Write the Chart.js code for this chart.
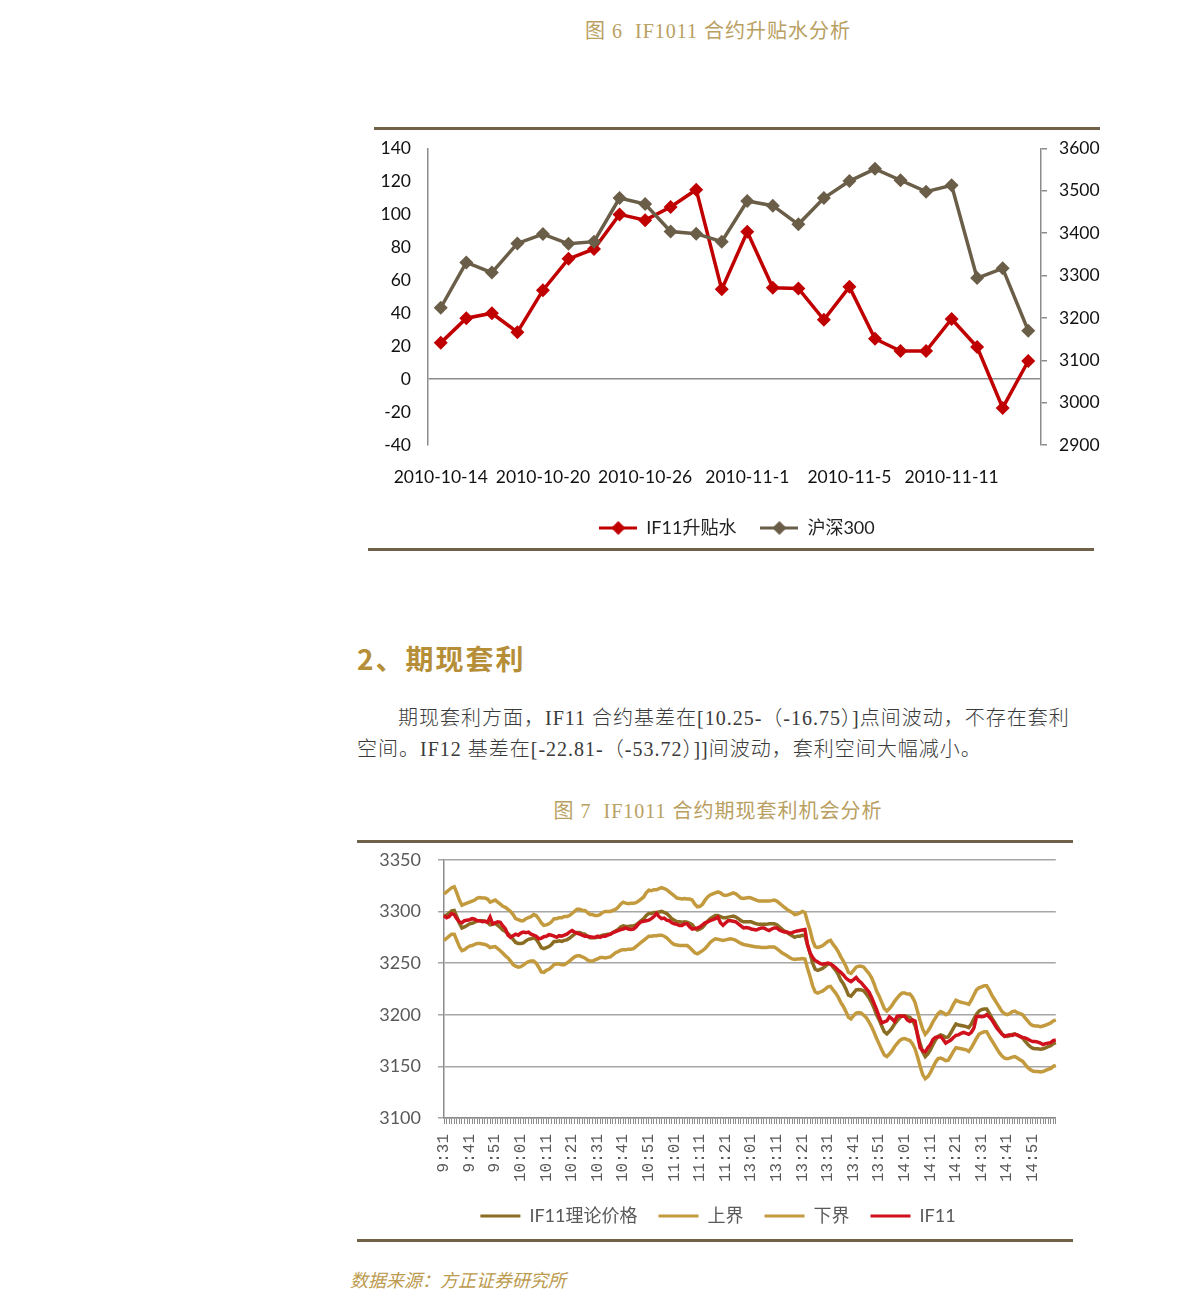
<!DOCTYPE html>
<html><head><meta charset="utf-8">
<script src="https://cdn.jsdelivr.net/npm/chart.js@4.4.0/dist/chart.umd.min.js"></script>
<style>
html,body{margin:0;padding:0;background:#fff;}
body{width:1191px;height:1309px;position:relative;overflow:hidden;}
.abs{position:absolute;white-space:pre;}
.title{font-family:'Liberation Serif','Noto Sans CJK SC',serif;font-size:20px;letter-spacing:1px;color:#B9A062;text-align:center;width:600px;left:418px;line-height:24px;}
.rule{position:absolute;height:3px;background:#6F6249;}
.para{font-family:'Liberation Serif','Noto Sans CJK SC',serif;font-size:20px;letter-spacing:1px;color:#3a3a3a;line-height:30px;font-weight:300;}
canvas{position:absolute;}
</style></head><body>
<div class="abs title" style="top:19px;">图 6  IF1011 合约升贴水分析</div>
<div class="rule" style="left:374px;top:127px;width:726px;"></div>
<canvas id="c1" width="746" height="426" style="left:364px;top:121px;width:746px;height:426px;"></canvas>
<div class="rule" style="left:368px;top:548px;width:726px;"></div>

<div class="abs" style="left:357px;top:641px;font-family:'Noto Sans CJK SC',sans-serif;font-weight:700;font-size:28px;letter-spacing:2px;line-height:34px;color:#B58E37;">2、期现套利</div>
<div class="abs para" style="left:398px;top:703px;">期现套利方面，IF11 合约基差在[10.25-（-16.75）]点间波动，不存在套利</div>
<div class="abs para" style="left:357px;top:734px;">空间。IF12 基差在[-22.81-（-53.72）]]间波动，套利空间大幅减小。</div>

<div class="abs title" style="top:799px;">图 7  IF1011 合约期现套利机会分析</div>
<div class="rule" style="left:357px;top:840px;width:716px;"></div>
<canvas id="c2" width="728" height="406" style="left:357px;top:832px;width:728px;height:406px;"></canvas>
<div class="rule" style="left:357px;top:1239px;width:716px;"></div>
<div class="abs" style="left:350px;top:1267px;font-family:'Noto Sans CJK SC',sans-serif;font-style:italic;font-size:18px;line-height:24px;color:#BC9A4E;">数据来源：方正证券研究所</div>

<script>
// ---------- Chart 1 data ----------
const dates1 = ['2010-10-14','2010-10-15','2010-10-18','2010-10-19','2010-10-20','2010-10-21','2010-10-22','2010-10-25','2010-10-26','2010-10-27','2010-10-28','2010-10-29','2010-11-1','2010-11-2','2010-11-3','2010-11-4','2010-11-5','2010-11-8','2010-11-9','2010-11-10','2010-11-11','2010-11-12','2010-11-15','2010-11-16'];
const if11Basis = [22, 37, 40, 28.5, 54, 73, 79, 100, 96.5, 104.5, 115, 54.5, 89.5, 55.5, 55, 36, 56, 24.5, 17, 17, 36.5, 19.5, -17.5, 11];
const hs300 = [3224, 3331, 3307, 3376, 3398, 3375, 3380, 3483, 3469, 3404, 3399, 3380, 3476, 3465, 3421, 3483, 3523, 3552, 3525, 3498, 3513, 3294, 3317, 3170];
const seriesNames1 = ['IF11升贴水', '沪深300'];

// ---------- Chart 2 data ----------
const seriesNames2 = ['IF11理论价格', '上界', '下界', 'IF11'];
const sessions = [['9:31', '11:30'], ['13:01', '15:00']];
const theoPrice = [
3295,3296.5,3298.5,3300.5,3301,3295,3288.5,3284,3285,3286.5,
3288,3288.5,3289.5,3291,3291,3291,3290.5,3289.5,3287,3287.5,
3288.5,3286.5,3284.5,3282,3280.5,3278.5,3276,3273,3270,3269,
3269,3269.5,3271.5,3273,3273.5,3274.5,3273,3269.5,3265,3264,
3265,3266,3268,3271,3271,3271.5,3271,3272,3272.5,3274,
3276,3278,3279.5,3279.5,3278.5,3278,3276,3274.5,3274.5,3274.5,
3275,3276,3277,3277.5,3278,3278,3279.5,3281,3282.5,3285,
3286,3285.5,3285.5,3286,3286,3287,3289,3291,3293,3296,
3298,3298,3299,3299,3299.5,3300,3299,3298,3295.5,3293,
3291.5,3290,3290,3289.5,3290,3289.5,3288.5,3287,3283.5,3282,
3283,3284.5,3287.5,3290.5,3293,3294.5,3296,3296,3295,3294,
3294,3294.5,3295,3295.5,3294.5,3293,3291,3290,3290,3290,
3290,3289,3288,3287.5,3287.5,3287.5,3287.5,3288,3288,3288,
3287,3285,3283,3281,3279.5,3278,3276.5,3275,3276,3276,
3277,3276.5,3267.5,3259.5,3250,3244,3243,3244,3245,3247,
3249,3249.5,3246,3243,3239,3233.5,3230,3225,3219,3218,
3221,3224,3224.5,3224,3223,3220,3216.5,3212,3206.5,3200,
3195,3189,3183.5,3181.5,3184,3187,3191,3194,3197,3199,
3199,3198,3197.5,3194.5,3189.5,3181,3172,3164,3159.5,3162,
3166,3171,3175.5,3179,3180.5,3179.5,3178,3178.5,3182.5,3187,
3191,3190,3189.5,3189,3188.5,3187.5,3191,3196,3200.5,3203.5,
3205,3205.5,3205.5,3201.5,3197,3193,3189,3185,3181.5,3179.5,
3179,3179.5,3181,3181.5,3180,3179,3177.5,3174.5,3171.5,3169,
3167.5,3167,3167,3166.5,3167,3168,3169,3170,3172,3173];
const upperBound = [
3317,3319,3321,3323,3324,3318,3311,3306,3307,3308,
3309,3310,3311,3313,3313.5,3313,3313,3312,3309,3310,
3311,3309,3307,3305,3304,3302,3300,3297,3293,3292,
3291,3291,3293,3294,3295,3297,3296,3293,3289,3286.5,
3287,3288,3290,3293,3293,3294,3294,3295,3295,3296,
3298,3300,3302,3302,3301,3301,3299,3297,3297,3296,
3296,3297,3299,3300,3300,3300,3301,3302,3304,3307,
3309,3308,3307.5,3308,3308,3308.5,3310,3312,3314,3318,
3320.5,3320,3321,3321,3322,3323,3322,3321,3319,3317,
3315,3313,3312.5,3312,3312.5,3312,3312,3311,3307,3304.5,
3305,3307,3311,3314,3316,3317,3318,3319,3318,3316,
3315.5,3316,3317,3318,3317,3315,3313,3312.5,3313,3313.5,
3313,3312,3311,3310,3310,3310,3310,3310,3310.5,3311,
3310,3308,3306,3304,3302,3300.5,3299,3297,3297.5,3298.5,
3300,3299,3290,3282,3272,3266,3265,3266,3267,3269,
3271,3272,3268,3265,3261,3256,3252,3247,3241,3240,
3243,3246,3247,3247,3246,3243,3240,3236,3230,3223,
3218,3212,3206,3203.5,3206,3209,3213,3216,3219,3221,
3221,3220,3220,3217,3212,3203,3194,3186,3181,3184,
3188,3193,3197,3201,3203,3202,3200,3201,3205,3210,
3214,3213,3212,3211.5,3211,3210,3214,3219,3224,3226,
3227,3228,3228,3224,3219,3215,3211,3207,3203,3201,
3200,3201,3203,3203.5,3202,3201,3200,3197,3194,3191,
3189.5,3189,3189,3188.5,3189,3190,3191,3192,3194,3195];
const lowerBound = [
3272,3274,3276,3278,3278,3272,3266,3262,3263,3265,
3266.5,3267,3268,3269,3269,3268.5,3268,3267,3265,3265.5,
3266,3264,3262,3259.5,3257,3255,3252,3248.5,3247,3246,
3246.5,3248,3250,3251.5,3252,3252,3250,3246,3241.5,3241,
3243,3244,3246,3248.5,3249,3249,3248.5,3248.5,3250,3252,
3254,3256,3257,3257,3256,3255,3253,3252,3252,3253,
3254,3255.5,3255.5,3255,3255.5,3256,3258,3260,3261,3262.5,
3263,3263,3263.5,3263.5,3264,3266,3268,3270,3272,3274,
3276,3276,3276.5,3276.5,3277,3277,3276,3274.5,3272,3269.5,
3268,3267.5,3267,3267,3267,3267,3265,3262.5,3260,3259,
3260.5,3262,3264,3267,3270,3272,3273.5,3273,3272.5,3272,
3272.5,3273,3273.5,3273,3272,3270.5,3269,3268,3267.5,3267,
3266.5,3266,3265.5,3265.5,3265,3265,3265,3265.5,3265.5,3265.5,
3264,3262,3260,3258.5,3257,3255.5,3254,3253.5,3254,3254,
3254.5,3254,3245,3237,3228,3222,3221,3222,3223,3225,
3227,3227.5,3224,3221,3217,3212,3208,3203,3197.5,3196,
3199,3201.5,3202,3201.5,3199.5,3197,3193,3188.5,3183,3177,
3171.5,3166,3161,3159.5,3162,3165,3169,3172,3175,3176.5,
3177,3176,3175,3172,3167,3159,3150,3142,3138,3140,
3144,3149,3154,3157.5,3158,3157,3155.5,3156,3160,3164.5,
3168,3167.5,3167,3166.5,3166,3164.5,3168,3172.5,3177,3181,
3182.5,3183.5,3183.5,3179,3175,3171,3167,3163,3160,3158,
3157.5,3158,3159,3159.5,3158,3156.5,3155,3152,3149,3147,
3145.5,3145,3145,3144.5,3145,3146,3147,3148,3150,3151];
const if11Price = [
3296,3294,3295,3298,3297,3293,3290,3289,3291,3291.5,
3292,3293,3292.5,3291,3291,3290,3290.5,3289.5,3294.5,3288,
3289,3290,3289.5,3286,3283,3277,3275,3276.5,3278,3277,
3279,3280,3279.5,3280,3278,3277,3276,3273.5,3274,3275.5,
3276,3277.5,3277,3276,3275,3276.5,3276,3277,3278,3280,
3281.5,3280,3279,3278,3277,3276,3276,3275.5,3275,3275,
3276,3275,3276,3276,3277,3278,3279.5,3280.5,3281.5,3282.5,
3283,3284,3283,3282.5,3283,3285,3288,3290,3290.5,3291,
3291.5,3293,3295,3298,3295,3293,3293.5,3291.5,3291,3289,
3288,3287.5,3286.5,3286.5,3288,3288,3285,3283,3283.5,3284,
3285,3287,3289,3290,3291,3292,3293,3294.5,3289,3286.5,
3289,3291,3291,3290.5,3290,3288,3286,3284,3284.5,3284,
3283,3282.5,3282,3283,3284,3284,3282.5,3281.5,3283,3284,
3284,3282,3281,3280,3280,3279,3279.5,3280.5,3281,3281.5,
3282,3282.5,3268,3260,3255.5,3252.5,3251,3249.5,3249,3249.5,
3250,3249,3247.5,3245.5,3243,3241,3238.5,3235.5,3233.5,3232,
3234,3236,3233,3231,3228,3225,3222,3217,3211,3205,
3198,3192,3193,3194,3198,3196,3193.5,3198.5,3199,3198.5,
3198.5,3195,3193.5,3195,3194,3180,3168,3165,3164,3168,
3171,3176,3178,3178.5,3179,3176,3172.5,3174,3175.5,3178,
3180,3180.5,3182,3183,3182,3181,3183,3187,3198,3198.5,
3198,3198.5,3200,3198,3195,3191,3187,3184,3181,3179,
3180,3180.5,3180,3181,3180.5,3179,3178,3177.5,3176.5,3175,
3174,3174,3173.5,3172.5,3171,3172,3172.5,3173,3175,3175.5];

// minute categories for the two trading sessions
function minutesBetween(a, b) {
  const toM = s => { const p = s.split(':'); return (+p[0]) * 60 + (+p[1]); };
  const out = [];
  for (let m = toM(a); m <= toM(b); m++) out.push(Math.floor(m / 60) + ':' + String(m % 60).padStart(2, '0'));
  return out;
}
const times2 = sessions.flatMap(s => minutesBetween(s[0], s[1]));

// ---------- Common ----------
Chart.defaults.font.family = "Lato, 'Noto Sans CJK SC', sans-serif";
Chart.defaults.animation = false;

const RED1 = '#C00000', GRAY1 = '#6B5E48';
const AXIS = '#8C8C8C';
const plain = v => String(v);

function lineMarker(color) {
  const c = document.createElement('canvas');
  c.width = 38; c.height = 16;
  const g = c.getContext('2d');
  g.strokeStyle = color; g.lineWidth = 3;
  g.beginPath(); g.moveTo(0, 8); g.lineTo(38, 8); g.stroke();
  g.fillStyle = color;
  g.beginPath(); g.moveTo(19, 1); g.lineTo(26, 8); g.lineTo(19, 15); g.lineTo(12, 8); g.closePath(); g.fill();
  return c;
}

new Chart(document.getElementById('c1'), {
  type: 'line',
  data: {
    labels: dates1,
    datasets: [
      { label: seriesNames1[0], data: if11Basis, yAxisID: 'y', borderColor: RED1, backgroundColor: RED1,
        borderWidth: 3.5, pointStyle: 'rectRot', pointRadius: 7, pointBackgroundColor: RED1, pointBorderWidth: 0, tension: 0, order: 1 },
      { label: seriesNames1[1], data: hs300, yAxisID: 'y2', borderColor: GRAY1, backgroundColor: GRAY1,
        borderWidth: 3.5, pointStyle: 'rectRot', pointRadius: 7, pointBackgroundColor: GRAY1, pointBorderWidth: 0, tension: 0, order: 0 }
    ]
  },
  options: {
    responsive: false, devicePixelRatio: 1,
    layout: { padding: { top: 6, left: 0, right: 0, bottom: 0 } },
    plugins: {
      tooltip: { enabled: false },
      legend: {
        position: 'bottom',
        labels: {
          usePointStyle: true, pointStyleWidth: 38, padding: 24, color: '#222',
          font: { size: 18 },
          sort: (a, b) => a.datasetIndex - b.datasetIndex,
          generateLabels: chart => Chart.defaults.plugins.legend.labels.generateLabels(chart).map(it => {
            it.pointStyle = lineMarker(it.datasetIndex === 0 ? RED1 : GRAY1);
            return it;
          })
        }
      }
    },
    scales: {
      x: {
        offset: true,
        grid: { display: false, drawTicks: false },
        border: { display: false },
        ticks: { autoSkip: false, maxRotation: 0, minRotation: 0, padding: 22, color: '#111', font: { size: 17.5 },
          callback: function (v, i) { return i % 4 === 0 ? this.getLabelForValue(v) : ''; } },
        afterFit: s => { s.height = 50; }
      },
      y: {
        position: 'left', min: -40, max: 140,
        ticks: { stepSize: 20, padding: 17, color: '#111', font: { size: 17.5 }, callback: plain },
        grid: { drawTicks: false, lineWidth: 1.5, color: c => (c.tick && c.tick.value === 0) ? AXIS : 'rgba(0,0,0,0)' },
        border: { display: true, color: AXIS, width: 1.5 },
        afterFit: s => { s.width = 64; }
      },
      y2: {
        position: 'right', min: 2900, max: 3600,
        ticks: { stepSize: 100, padding: 12, color: '#111', font: { size: 17.5 }, callback: plain },
        grid: { drawOnChartArea: false, drawTicks: true, tickLength: 6, color: AXIS, lineWidth: 1.5 },
        border: { display: true, color: AXIS, width: 1.5 },
        afterFit: s => { s.width = 69; }
      }
    }
  }
});

const THEO = '#8A6D23', BOUND = '#C39A3E', RED2 = '#D0101C';
new Chart(document.getElementById('c2'), {
  type: 'line',
  data: {
    labels: times2,
    datasets: [
      { label: seriesNames2[0], data: theoPrice, borderColor: THEO, backgroundColor: THEO, borderWidth: 3.5, pointRadius: 0, tension: 0, order: 3 },
      { label: seriesNames2[1], data: upperBound, borderColor: BOUND, backgroundColor: BOUND, borderWidth: 3.5, pointRadius: 0, tension: 0, order: 2 },
      { label: seriesNames2[2], data: lowerBound, borderColor: BOUND, backgroundColor: BOUND, borderWidth: 3.5, pointRadius: 0, tension: 0, order: 1 },
      { label: seriesNames2[3], data: if11Price, borderColor: RED2, backgroundColor: RED2, borderWidth: 3.5, pointRadius: 0, tension: 0, order: 0 }
    ]
  },
  options: {
    responsive: false, devicePixelRatio: 1,
    layout: { padding: { top: 5, left: 0, right: 6, bottom: 3 } },
    plugins: {
      tooltip: { enabled: false },
      legend: {
        position: 'bottom',
        labels: {
          boxWidth: 40, boxHeight: 3, padding: 21, color: '#595959', font: { size: 18 },
          sort: (a, b) => a.datasetIndex - b.datasetIndex,
          generateLabels: chart => Chart.defaults.plugins.legend.labels.generateLabels(chart).map(it => {
            it.fillStyle = it.strokeStyle; it.lineWidth = 0; return it;
          })
        }
      }
    },
    scales: {
      x: {
        offset: false,
        grid: { drawOnChartArea: false, drawTicks: true, tickLength: 6, color: AXIS, lineWidth: 1 },
        border: { display: true, color: AXIS, width: 1.5 },
        ticks: { autoSkip: false, maxRotation: 90, minRotation: 90, padding: 10, color: '#595959',
          font: { family: "'Liberation Mono', monospace", size: 16 },
          callback: function (v, i) { return i % 10 === 0 ? this.getLabelForValue(v) : ''; } },
        afterFit: s => { s.height = 68; }
      },
      y: {
        min: 3100, max: 3350,
        ticks: { stepSize: 50, padding: 17, color: '#595959', font: { size: 18 }, callback: plain },
        grid: { drawTicks: true, tickLength: 6, color: '#A6A6A6', lineWidth: 1.5 },
        border: { display: true, color: AXIS, width: 1.5 },
        afterFit: s => { s.width = 87; }
      }
    }
  }
});
</script>
</body></html>
